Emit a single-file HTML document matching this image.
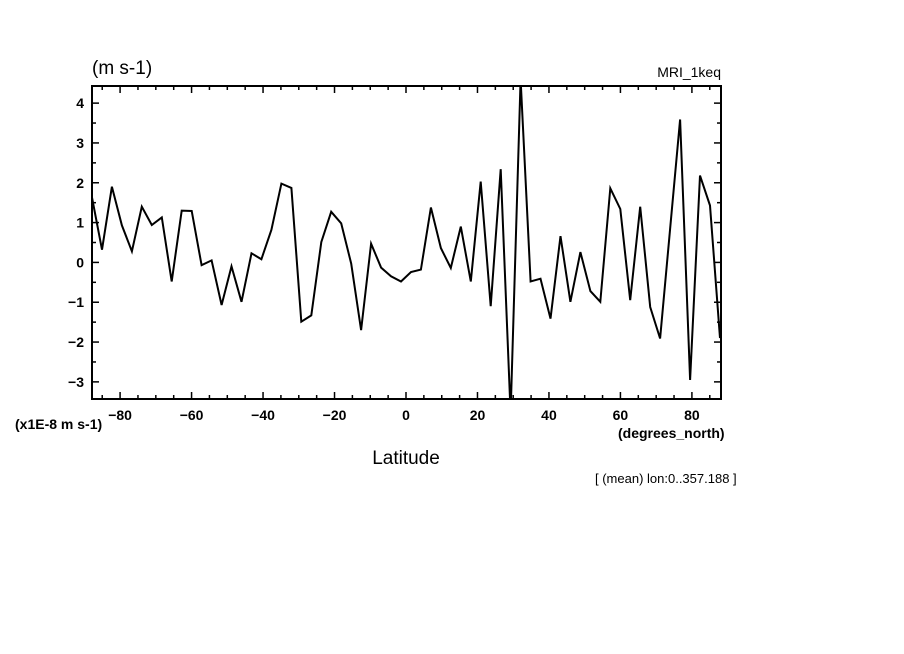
<!DOCTYPE html>
<html><head><meta charset="utf-8"><style>
html,body{margin:0;padding:0;background:#fff;}
svg{display:block;font-family:"Liberation Sans",sans-serif;}
</style></head><body>
<svg id="chart" width="904" height="654" viewBox="0 0 904 654" xmlns="http://www.w3.org/2000/svg">
<defs><clipPath id="clip"><rect x="92" y="86" width="629" height="313"/></clipPath></defs>
<text x="92" y="74" font-size="19">(m s-1)</text>
<text x="721" y="77" font-size="14" text-anchor="end">MRI_1keq</text>
<g id="axes"></g>
<g id="series" clip-path="url(#clip)"></g>
<rect x="92" y="86" width="629" height="313" fill="none" stroke="#000" stroke-width="2"/>
<text x="15" y="429" font-size="14" font-weight="bold">(x1E-8 m s-1)</text>
<text x="618" y="438" font-size="14" font-weight="bold">(degrees_north)</text>
<text x="406" y="464" font-size="19" text-anchor="middle">Latitude</text>
<text x="595" y="483" font-size="13">[ (mean) lon:0..357.188 ]</text>
</svg>
<script>
const values = [1.63,0.32,1.9,0.93,0.28,1.4,0.94,1.13,-0.48,1.3,1.29,-0.07,0.05,-1.07,-0.1,-0.99,0.23,0.08,0.82,1.98,1.87,-1.49,-1.33,0.51,1.27,0.98,-0.03,-1.7,0.47,-0.13,-0.35,-0.48,-0.24,-0.18,1.38,0.36,-0.14,0.9,-0.48,2.03,-1.1,2.34,-3.8,4.6,-0.48,-0.41,-1.41,0.66,-0.99,0.26,-0.72,-0.99,1.86,1.34,-0.95,1.4,-1.12,-1.91,0.84,3.59,-2.95,2.18,1.43,-1.9];
const latStart = -87.86;
const latStep = 2.789;
const xTicks = [-80,-60,-40,-20,0,20,40,60,80];
const xTickLabels = ["\u221280","\u221260","\u221240","\u221220","0","20","40","60","80"];
const yTicks = [-3,-2,-1,0,1,2,3,4];
const yTickLabels = ["\u22123","\u22122","\u22121","0","1","2","3","4"];
const ns="http://www.w3.org/2000/svg";
const X0=92,X1=720,Y0=86,Y1=399;
const latMin=-87.86,latMax=87.86,vMin=-3.43,vMax=4.43;
const xs=v=>X0+(v-latMin)/(latMax-latMin)*(X1-X0);
const ys=v=>Y1-(v-vMin)/(vMax-vMin)*(Y1-Y0);
const axes=document.getElementById('axes');
function mk(tag,attrs){const e=document.createElementNS(ns,tag);for(const k in attrs)e.setAttribute(k,attrs[k]);return e;}
for(let t=-85;t<=85;t+=5){
  const major=t%20===0;const L=major?7:4;const x=xs(t);
  const a=mk('line',{x1:x,x2:x,y1:Y1,y2:Y1-L,stroke:'#000','stroke-width':1.5});
  
  
  axes.appendChild(a);
  const b=mk('line',{x1:x,x2:x,y1:Y0,y2:Y0+L,stroke:'#000','stroke-width':1.5});
  
  
  axes.appendChild(b);
}
for(let t=-3;t<=4.01;t+=0.5){
  const major=Math.abs(t-Math.round(t))<1e-6;const L=major?7:4;const y=ys(t);
  const a=mk('line',{x1:X0,x2:X0+L,y1:y,y2:y,stroke:'#000','stroke-width':1.5});
  
  
  axes.appendChild(a);
  const b=mk('line',{x1:721,x2:721-L,y1:y,y2:y,stroke:'#000','stroke-width':1.5});
  
  
  axes.appendChild(b);
}
xTicks.forEach((t,i)=>{
  const e=mk('text',{x:xs(t),y:420,'font-size':14,'text-anchor':'middle','font-weight':'bold'});
  e.textContent=xTickLabels[i];
  
  
  axes.appendChild(e);
});
yTicks.forEach((t,i)=>{
  const e=mk('text',{x:84,y:ys(t)+5,'font-size':14,'text-anchor':'end','font-weight':'bold'});
  e.textContent=yTickLabels[i];
  
  
  axes.appendChild(e);
});
const pts=values.map((v,i)=>xs(latStart+i*latStep).toFixed(1)+','+ys(v).toFixed(1)).join(' ');
const pl=mk('polyline',{points:pts,fill:'none',stroke:'#000','stroke-width':2,'stroke-linejoin':'miter'});


document.getElementById('series').appendChild(pl);
</script>
</body></html>
